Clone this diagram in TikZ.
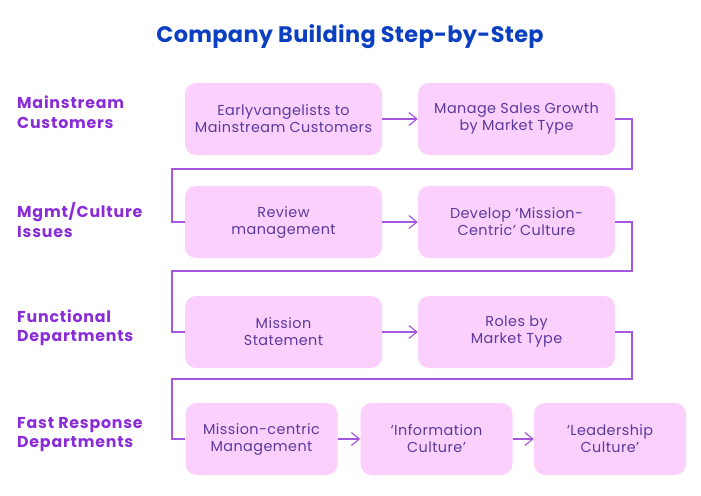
\documentclass[tikz,border=0pt]{standalone}
\usepackage{fontspec}
\setmainfont{Poppins}
\newfontfamily\titlefont[LetterSpace=1.5]{Poppins}
\newfontfamily\labelfont[LetterSpace=5]{Poppins}
\newfontfamily\boxfont[LetterSpace=3]{Poppins}
\usetikzlibrary{positioning}
\usetikzlibrary{arrows.meta}

\definecolor{titleblue}{HTML}{0B3FC2}
\definecolor{rowpurple}{HTML}{8A2BD8}
\definecolor{boxpink}{HTML}{FBD0FC}
\definecolor{boxtext}{HTML}{5A3A9E}
\definecolor{linkpurple}{HTML}{A458E0}

\tikzset{
  stepbox/.style={fill=boxpink, rounded corners=11pt, minimum height=72pt,
    align=center, text=boxtext, font=\boxfont\fontsize{14.4}{17}\selectfont, inner sep=0pt},
  rowlabel/.style={anchor=west, align=left, text=rowpurple,
    font=\labelfont\fontsize{15.8}{19.5}\selectfont\bfseries, inner sep=0pt},
  link/.style={draw=linkpurple, line width=1.2pt},
  flow/.style={link, -{Straight Barb[length=8pt,width=13pt,line width=1.2pt]}}
}

\begin{document}
\begin{tikzpicture}[x=1pt,y=-1pt]
      \useasboundingbox (0,0) rectangle (701,495);
      \node[text=titleblue, font=\titlefont\fontsize{22.4}{26}\selectfont\bfseries] (title) at (350,37) {Company Building Step-by-Step};

      % row labels
      \node[rowlabel] (mainstream) at (17,112) {Mainstream\\Customers};
      \node[rowlabel] (mgmt) at (17,220) {Mgmt/Culture\\Issues};
      \node[rowlabel] (functional) at (17,328) {Functional\\Departments};
      \node[rowlabel] (fastresp) at (17,434.5) {Fast Response\\Departments};

      % boxes
      \node[stepbox, minimum width=197pt] (early) at (283.5,119) {Earlyvangelists to\\Mainstream Customers};
      \node[stepbox, minimum width=197pt] (sales) at (516.5,119) {Manage Sales Growth\\by Market Type};
      \node[stepbox, minimum width=197pt] (review) at (283.5,222) {Review\\management};
      \node[stepbox, minimum width=197pt] (develop) at (516.5,222) {Develop ‘Mission-\\Centric’ Culture};
      \node[stepbox, minimum width=197pt] (statement) at (283.5,332) {Mission\\Statement};
      \node[stepbox, minimum width=197pt] (roles) at (516.5,332) {Roles by\\Market Type};
      \node[stepbox, minimum width=152pt] (centric) at (261.5,439) {Mission-centric\\Management};
      \node[stepbox, minimum width=152pt] (info) at (436.5,439) {‘Information\\Culture’};
      \node[stepbox, minimum width=152pt] (leader) at (610,439) {‘Leadership\\Culture’};

      % arrows within rows
      \draw[flow] (early) -- (sales);
      \draw[flow] (review) -- (develop);
      \draw[flow] (statement) -- (roles);
      \draw[flow] (centric) -- (info);
      \draw[flow] (info) -- (leader);

      % turns between rows
      \coordinate (r1) at (632,169);
      \coordinate (l1) at (172,169);
      \coordinate (r2) at (632,271);
      \coordinate (l2) at (172,271);
      \coordinate (r3) at (632,379);
      \coordinate (l3) at (172,379);
      \draw[link] (sales.east) -| (r1) -- (l1) |- (review.west);
      \draw[link] (develop.east) -| (r2) -- (l2) |- (statement.west);
      \draw[link] (roles.east) -| (r3) -- (l3) |- (centric.west);
\end{tikzpicture}
\end{document}
